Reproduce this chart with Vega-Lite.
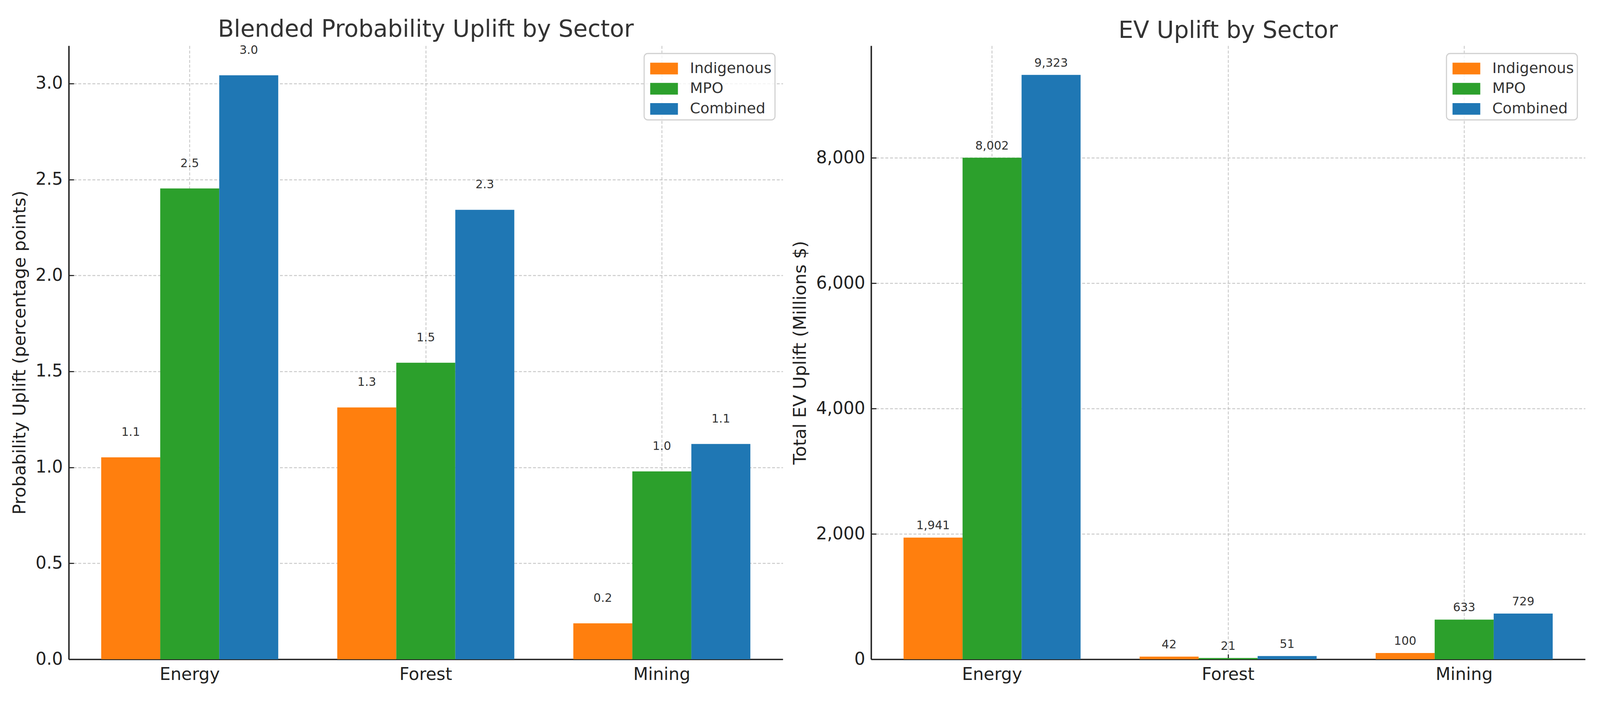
{
  "$schema": "https://vega.github.io/schema/vega-lite/v6.json",
  "padding": {"left": 28, "top": 45, "right": 38, "bottom": 40},
  "background": "white",
  "data": {
    "values": [
      {"sector": "Energy", "group": "Indigenous", "prob": 1.052, "ev": 1941},
      {"sector": "Energy", "group": "MPO", "prob": 2.453, "ev": 8002},
      {"sector": "Energy", "group": "Combined", "prob": 3.043, "ev": 9323},
      {"sector": "Forest", "group": "Indigenous", "prob": 1.312, "ev": 42},
      {"sector": "Forest", "group": "MPO", "prob": 1.545, "ev": 21},
      {"sector": "Forest", "group": "Combined", "prob": 2.342, "ev": 51},
      {"sector": "Mining", "group": "Indigenous", "prob": 0.187, "ev": 100},
      {"sector": "Mining", "group": "MPO", "prob": 0.979, "ev": 633},
      {"sector": "Mining", "group": "Combined", "prob": 1.122, "ev": 729}
    ]
  },
  "spacing": 22,
  "resolve": {"scale": {"x": "independent", "y": "independent", "color": "independent"}},
  "hconcat": [
    {
      "width": 1828,
      "height": 1571,
      "title": "Blended Probability Uplift by Sector",
      "encoding": {
        "x": {
          "field": "sector", "type": "nominal", "title": null,
          "scale": {"paddingInner": 0.25, "paddingOuter": 0.1375}
        },
        "xOffset": {
          "field": "group", "type": "nominal",
          "sort": ["Indigenous", "MPO", "Combined"],
          "scale": {"paddingInner": 0, "paddingOuter": 0}
        },
        "y": {
          "field": "prob", "type": "quantitative",
          "title": "Probability Uplift (percentage points)",
          "scale": {"domain": [0, 3.197], "nice": false, "zero": true},
          "axis": {"values": [0, 0.5, 1, 1.5, 2, 2.5, 3], "format": ".1f"}
        }
      },
      "layer": [
        {
          "mark": "bar",
          "encoding": {
            "color": {
              "field": "group", "type": "nominal",
              "sort": ["Indigenous", "MPO", "Combined"],
              "scale": {"domain": ["Indigenous", "MPO", "Combined"], "range": ["#ff7f0e", "#2ca02c", "#1f77b4"]}
            }
          }
        },
        {
          "mark": {"type": "text", "baseline": "alphabetic", "dy": -55, "fontSize": 30, "color": "#333"},
          "encoding": {"text": {"field": "prob", "type": "quantitative", "format": ".1f"}}
        }
      ]
    },
    {
      "width": 1828,
      "height": 1571,
      "title": "EV Uplift by Sector",
      "encoding": {
        "x": {
          "field": "sector", "type": "nominal", "title": null,
          "scale": {"paddingInner": 0.25, "paddingOuter": 0.1375}
        },
        "xOffset": {
          "field": "group", "type": "nominal",
          "sort": ["Indigenous", "MPO", "Combined"],
          "scale": {"paddingInner": 0, "paddingOuter": 0}
        },
        "y": {
          "field": "ev", "type": "quantitative",
          "title": "Total EV Uplift (Millions $)",
          "scale": {"domain": [0, 9789], "nice": false, "zero": true},
          "axis": {"values": [0, 2000, 4000, 6000, 8000], "format": ",.0f"}
        }
      },
      "layer": [
        {
          "mark": "bar",
          "encoding": {
            "color": {
              "field": "group", "type": "nominal",
              "sort": ["Indigenous", "MPO", "Combined"],
              "scale": {"domain": ["Indigenous", "MPO", "Combined"], "range": ["#ff7f0e", "#2ca02c", "#1f77b4"]}
            }
          }
        },
        {
          "mark": {"type": "text", "baseline": "alphabetic", "dy": -21, "fontSize": 30, "color": "#333"},
          "encoding": {"text": {"field": "ev", "type": "quantitative", "format": ",.0f"}}
        }
      ]
    }
  ],
  "config": {
    "font": "DejaVu Sans",
    "view": {"stroke": null},
    "title": {
      "fontSize": 60, "fontWeight": "normal", "color": "#333",
      "frame": "group", "anchor": "middle", "baseline": "alphabetic", "offset": 7
    },
    "axis": {
      "zindex": 1,
      "domainColor": "#222", "domainWidth": 3.7,
      "tickColor": "#222", "tickWidth": 2.7, "tickSize": -13,
      "labelFontSize": 44, "labelColor": "#222",
      "titleFontSize": 45, "titleFontWeight": "normal", "titleColor": "#222",
      "titlePadding": 17,
      "grid": true, "gridColor": "#b8b8b8", "gridOpacity": 0.75,
      "gridDash": [7.5, 4.5], "gridWidth": 2.3
    },
    "axisX": {"labelAngle": 0, "labelPadding": 30, "bandPosition": 0.5},
    "axisY": {"labelPadding": 28.4},
    "legend": {
      "orient": "top-right", "offset": 20, "title": null,
      "labelFontSize": 38, "labelColor": "#333", "labelOffset": 48.8, "labelLimit": 0,
      "symbolType": "M-0.77,-0.5H1.605V0.5H-0.77Z", "symbolSize": 3576,
      "symbolStrokeWidth": 0, "symbolOpacity": 1, "rowPadding": 2.7,
      "padding": 8.5, "strokeColor": "#d0d0d0", "fillColor": "rgba(255,255,255,0.8)",
      "cornerRadius": 9, "strokeWidth": 2.8
    }
  }
}
